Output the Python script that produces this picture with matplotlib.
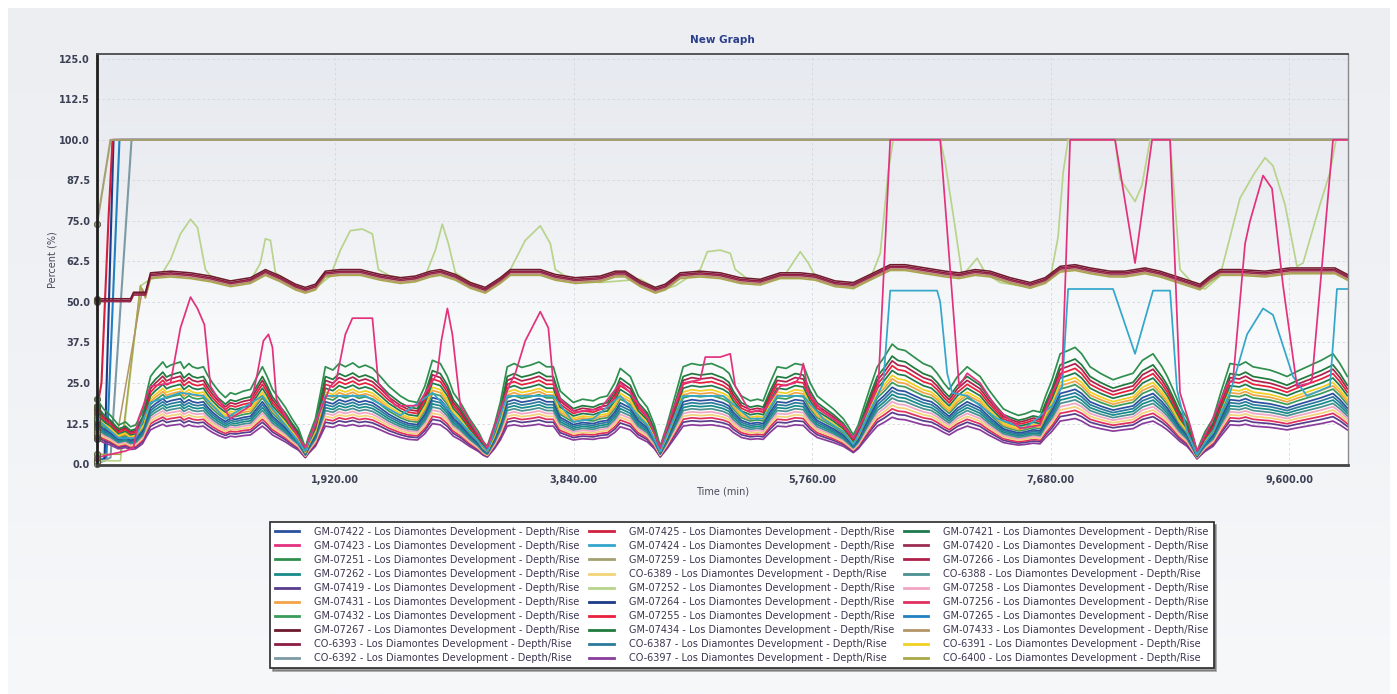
import matplotlib
matplotlib.use("Agg")
import matplotlib.pyplot as plt
import numpy as np
from matplotlib.lines import Line2D
from matplotlib.colors import LinearSegmentedColormap

# ---------------------------------------------------------------- data
# Time axis in minutes, values in percent.

# Common daily profile of the low-level sensor bundle (upper green trace)
BULK_T = [0, 52, 109, 173, 229, 270, 310, 366, 400, 431, 470, 495, 530, 560, 592, 630,
          672, 700, 740, 769, 810, 857, 890, 930, 980, 1034, 1075, 1115, 1180, 1236,
          1290, 1332, 1370, 1413, 1470, 1517, 1570, 1622, 1660, 1678, 1700, 1759, 1800,
          1839, 1900, 1950, 2000, 2060, 2110, 2161, 2220, 2282, 2350, 2443, 2510, 2580,
          2640, 2701, 2765, 2822, 2870, 2926, 3000, 3071, 3110, 3143, 3200, 3248, 3304,
          3360, 3420, 3490, 3560, 3620, 3675, 3731, 3790, 3836, 3910, 3997, 4050, 4110,
          4170, 4214, 4295, 4360, 4432, 4490, 4536, 4590, 4641, 4721, 4790, 4858, 4950,
          5043, 5090, 5124, 5190, 5261, 5320, 5365, 5420, 5478, 5550, 5623, 5688, 5744,
          5800, 5849, 5930, 6010, 6060, 6091, 6130, 6171, 6230, 6284, 6340, 6404, 6450,
          6509, 6580, 6654, 6720, 6766, 6820, 6863, 6930, 7008, 7060, 7112, 7180, 7249,
          7300, 7354, 7420, 7475, 7540, 7595, 7640, 7692, 7757, 7820, 7877, 7930, 7998,
          8080, 8130, 8183, 8260, 8344, 8420, 8505, 8577, 8620, 8666, 8720, 8779, 8830,
          8859, 8890, 8924, 8988, 9050, 9125, 9200, 9250, 9310, 9380, 9447, 9520, 9584,
          9660, 9745, 9800, 9860, 9954, 10010, 10070]
BULK_V = [20, 17, 15, 12, 13, 11.5, 12, 16, 22, 27, 29, 30, 31.5, 29.8, 30.5, 31,
          31.5, 29.5, 31, 30, 29.5, 30, 27.5, 25, 22.5, 20.5, 22, 21.5, 22.5, 23,
          27, 30, 27, 23, 20, 17.5, 14, 11, 7, 5, 8, 14, 22,
          30, 29, 31, 30, 31.2, 29.8, 30.5, 29.5, 27, 24, 21, 19.5, 19,
          24, 32, 31, 27, 22, 19, 14, 10, 7, 5.5, 12, 19, 30,
          31, 29.8, 30.5, 31.5, 30, 30, 22.5, 20.5, 19, 20, 19.5, 20.5, 21,
          25, 29.5, 27, 21, 17.5, 12, 5.5, 12, 19, 30, 31, 30.5, 31,
          29.5, 28, 25, 21, 19.5, 20, 19.5, 25, 30, 29.5, 31, 30.5, 25,
          21, 19.5, 17, 14, 11, 9, 12, 17, 24, 30, 33, 37, 35.5,
          35, 33, 31, 30, 28, 25, 23, 27, 30, 28.5, 27, 23, 19.5,
          17, 16, 15, 15.5, 16.5, 16, 21, 26, 34, 35, 36, 34, 30,
          28, 27, 26, 27, 28, 32, 34, 30, 27, 23, 18, 14, 8,
          4, 7, 10, 14, 22, 31, 30.5, 31.5, 30, 29.5, 29, 28, 27,
          28.5, 30, 31, 32, 34, 31, 27]

# Level of each bundle trace relative to the upper green trace
BULK_RATIO = {
    'GM-07251': 1.00, 'GM-07434': 0.90, 'GM-07266': 0.86, 'GM-07255': 0.82,
    'GM-07421': 0.78, 'CO-6391': 0.74, 'GM-07431': 0.71, 'GM-07432': 0.68,
    'GM-07422': 0.64, 'CO-6387': 0.61, 'GM-07262': 0.58, 'CO-6388': 0.55,
    'GM-07258': 0.52, 'CO-6389': 0.49, 'GM-07256': 0.46, 'GM-07419': 0.43,
    'CO-6397': 0.39,
}

# GM-07423 (spiking trace)
G23_T = [0, 109, 229, 294, 334, 431, 592, 672, 753, 809, 865, 914, 1075, 1236, 1292, 1340,
         1381, 1413, 1445, 1558, 1678, 1783, 1880, 1928, 2000, 2057, 2218, 2266, 2403,
         2580, 2741, 2773, 2822, 2862, 2926, 3071, 3143, 3248, 3329, 3369, 3449, 3570,
         3635, 3675, 3731, 3852, 4053, 4214, 4295, 4440, 4536, 4641, 4721, 4858, 4899,
         5019, 5100, 5140, 5261, 5382, 5502, 5623, 5664, 5688, 5728, 5849, 6010, 6091,
         6187, 6292, 6388, 6791, 6943, 7008, 7112, 7249, 7434, 7595, 7692, 7773, 7837,
         8199, 8360, 8497, 8642, 8722, 8803, 8859, 8964, 9109, 9149, 9246, 9286, 9391,
         9463, 9552, 9664, 9769, 9785, 9954, 10070]
G23_V = [2, 3, 4, 5, 14, 24, 25, 42, 51.5, 48, 43, 24, 14, 18, 28, 38,
         40, 36, 20, 12, 5, 15, 24, 26, 40, 45, 45, 25, 18,
         18, 28, 38, 48, 40, 18, 9, 5, 17, 25, 28, 38, 47,
         42, 25, 20, 16, 17, 25, 22, 14, 5, 17, 25, 26, 33,
         33, 34, 24, 16, 17, 24, 25, 27, 31, 22, 16, 12, 8,
         15, 24, 100, 100, 24, 28, 25, 17, 11, 12, 22, 28, 100,
         100, 62, 100, 100, 22, 12, 4, 12, 25, 26, 68, 75, 89,
         85, 55, 24, 25, 26, 100, 100]

# GM-07424 (plateau trace near 54 %)
G24_T = [0, 173, 310, 431, 672, 857, 1034, 1332, 1517, 1678, 1839, 2161, 2443, 2701, 2926,
         3143, 3304, 3675, 3836, 3997, 4214, 4432, 4536, 4721, 5043, 5261, 5365, 5478,
         5688, 5849, 6010, 6091, 6171, 6284, 6332, 6388, 6766, 6791, 6847, 6887, 7008,
         7249, 7475, 7692, 7773, 7821, 8183, 8360, 8505, 8642, 8698, 8779, 8859, 8988,
         9125, 9149, 9262, 9391, 9471, 9632, 9745, 9930, 9986, 10070]
G24_V = [14, 8, 8, 19, 22, 21, 14, 21, 12, 4, 21, 21, 15, 22, 13,
         4, 21, 21, 13, 14, 21, 12, 4, 21, 21, 14, 14, 21,
         21, 14, 10, 6, 12, 21, 25, 53.5, 53.5, 50, 28, 22, 21,
         14, 11, 18, 24, 54, 54, 34, 53.5, 53.5, 23, 10, 3, 10,
         22, 25, 40, 48, 46, 27, 21, 24, 54, 54]

# GM-07252 (upper trace with daily peaks)
G52_T = [0, 189, 350, 431, 511, 592, 672, 753, 809, 873, 914, 1075, 1236, 1316, 1356, 1397,
         1437, 1558, 1678, 1783, 1880, 1960, 2040, 2137, 2218, 2266, 2362, 2524, 2644,
         2725, 2781, 2830, 2886, 3007, 3127, 3248, 3329, 3449, 3570, 3651, 3691, 3812,
         4053, 4375, 4536, 4657, 4778, 4858, 4915, 5019, 5100, 5140, 5261, 5422, 5543,
         5664, 5728, 5784, 5986, 6091, 6227, 6308, 6372, 6412, 6791, 6831, 6903, 6968,
         7088, 7153, 7273, 7515, 7676, 7740, 7781, 7821, 8199, 8239, 8360, 8416, 8481,
         8642, 8682, 8722, 8843, 8924, 9044, 9125, 9205, 9326, 9407, 9471, 9568, 9664,
         9713, 9849, 9930, 9978, 10070]
G52_V = [1, 1, 55, 57, 58, 63, 71, 75.5, 73, 60, 58, 56, 56.5, 62, 69.5, 69,
         59, 56, 53.5, 55, 58, 66, 72, 72.5, 71, 60, 58, 57, 58,
         66, 74, 68, 59, 56, 53.5, 57, 60, 69, 73.5, 68, 60, 57,
         56, 57, 53.5, 55, 58, 60, 65.5, 66, 65, 60, 56.5, 57, 58.5,
         65.5, 62, 58, 55, 54, 57, 65, 90, 100, 100, 93, 75, 58,
         63.5, 59, 56, 54.5, 57, 70, 90, 100, 100, 88, 81, 86, 100,
         100, 80, 60, 55, 54, 58, 70, 82, 90, 94.5, 92, 80, 61,
         62, 80, 90, 100, 100]

# Traces running near 58 % (shared profile and per-trace offsets)
G58_T = [0, 270, 294, 390, 431, 592, 753, 914, 1075, 1236, 1356, 1477, 1598, 1678, 1759,
         1839, 1960, 2121, 2282, 2443, 2564, 2685, 2765, 2886, 3007, 3127, 3248, 3329,
         3570, 3691, 3852, 4053, 4174, 4254, 4375, 4496, 4577, 4697, 4858, 5019, 5180,
         5341, 5502, 5664, 5784, 5945, 6091, 6227, 6388, 6509, 6670, 6831, 6943, 7072,
         7193, 7354, 7515, 7636, 7757, 7877, 7998, 8159, 8279, 8440, 8561, 8722, 8843,
         8883, 8964, 9044, 9205, 9407, 9608, 9769, 9970, 10070]
G58_V = [50.5, 50.5, 52.5, 52.5, 58.5, 59, 58.5, 57.5, 56, 57, 59.5, 57.5, 55, 54, 55,
         59, 59.5, 59.5, 58, 57, 57.5, 59, 59.5, 58, 55.5, 54, 57, 59.5,
         59.5, 58, 57, 57.5, 59, 59, 56, 54, 55, 58.5, 59, 58.5, 57,
         56.5, 58.5, 58.5, 58, 56, 55.5, 58, 61, 61, 60, 59, 58.5, 59.5,
         59, 57, 55.5, 57, 60.5, 61, 60, 59, 59, 60, 59, 57, 55.5,
         55, 57.5, 59.5, 59.5, 59, 60, 60, 60, 58]
G58_OFFSET = {'GM-07267': 0.5, 'CO-6393': 0.0, 'GM-07420': -0.4,
              'GM-07433': -0.9, 'CO-6400': -1.3}
G58_START = {
    'GM-07433': ([0, 149, 366], [8, 6, 54]),
    'CO-6400': ([0, 189, 350], [3, 3, 55]),
}

# Traces that climb to 100 % right after the start
FULL_T = {
    'GM-07425': [0, 36, 93, 125, 10070],
    'GM-07259': [0, 109, 10070],
    'GM-07264': [0, 60, 133, 10070],
    'GM-07265': [0, 76, 181, 10070],
    'CO-6392': [0, 109, 278, 10070],
}
FULL_V = {
    'GM-07425': [17, 25, 76, 100, 100],
    'GM-07259': [74, 100, 100],
    'GM-07264': [1, 1, 100, 100],
    'GM-07265': [1, 2, 100, 100],
    'CO-6392': [0, 2, 100, 100],
}

COLORS = {
    'GM-07422': '#2c4f9e', 'GM-07423': '#e2327e', 'GM-07251': '#2f8f4e',
    'GM-07262': '#178a8a', 'GM-07419': '#5a3c8c', 'GM-07431': '#f2a444',
    'GM-07432': '#3a9c5c', 'GM-07267': '#6e1a2c', 'CO-6393': '#8c1c40',
    'CO-6392': '#7c9aa4', 'GM-07425': '#d0203e', 'GM-07424': '#34a6cc',
    'GM-07259': '#a4a070', 'CO-6389': '#f2d478', 'GM-07252': '#b8d48c',
    'GM-07264': '#1c3a86', 'GM-07255': '#e8203c', 'GM-07434': '#1f7a3c',
    'CO-6387': '#2a7a9c', 'CO-6397': '#8a3c9c', 'GM-07421': '#1d7a4c',
    'GM-07420': '#9c2c50', 'GM-07266': '#b0204a', 'CO-6388': '#4a9090',
    'GM-07258': '#f2a6c4', 'GM-07256': '#e0305e', 'GM-07265': '#2080c0',
    'GM-07433': '#b29468', 'CO-6391': '#f0d020', 'CO-6400': '#a8a848',
}

LEGEND_ORDER = ['GM-07422', 'GM-07423', 'GM-07251', 'GM-07262', 'GM-07419',
                'GM-07431', 'GM-07432', 'GM-07267', 'CO-6393', 'CO-6392',
                'GM-07425', 'GM-07424', 'GM-07259', 'CO-6389', 'GM-07252',
                'GM-07264', 'GM-07255', 'GM-07434', 'CO-6387', 'CO-6397',
                'GM-07421', 'GM-07420', 'GM-07266', 'CO-6388', 'GM-07258',
                'GM-07256', 'GM-07265', 'GM-07433', 'CO-6391', 'CO-6400']

X_TICKS = [1920, 3840, 5760, 7680, 9600]
Y_TICKS = [0, 12.5, 25, 37.5, 50, 62.5, 75, 87.5, 100, 112.5, 125]

# ---------------------------------------------------------------- figure
W, H, DPI = 1397, 694, 100
fig = plt.figure(figsize=(W / DPI, H / DPI), dpi=DPI, facecolor='white')
plt.rcParams['font.family'] = ['DejaVu Sans']

grad = np.linspace(0, 1, 256).reshape(-1, 1)

# light panel behind the chart
bg = fig.add_axes([8 / W, 0, (1390 - 8) / W, 1 - 8 / H], zorder=-10)
bg.imshow(grad, aspect='auto', extent=[0, 1, 0, 1],
          cmap=LinearSegmentedColormap.from_list('panel', ['#eceef2', '#f1f2f5', '#f7f8fa']))
bg.axis('off')

ax = fig.add_axes([97 / W, 1 - 465 / H, (1348 - 97) / W, (465 - 54) / H])
ax.imshow(grad, aspect='auto', extent=[0, 1, 0, 1], transform=ax.transAxes, zorder=0,
          cmap=LinearSegmentedColormap.from_list('plot', ['#e7eaf0', '#eceef2', '#f8f9fa', '#ffffff']))


def draw(t, v, name, z, lw=1.25):
    c = COLORS[name]
    ax.plot(t, v, color=c, lw=lw, zorder=z, solid_joinstyle='round')
    ax.plot(t[0], v[0], 'o', ms=4.5, mfc=c, mec='#55553a', mew=0.6,
            zorder=40, clip_on=False)


# traces at 100 %
for i, name in enumerate(['GM-07265', 'GM-07264', 'GM-07425', 'CO-6392', 'GM-07259']):
    draw(FULL_T[name], FULL_V[name], name, 3 + i * 0.01, lw=1.5)

# traces near 58 %
for i, name in enumerate(['CO-6400', 'GM-07433', 'GM-07420', 'CO-6393', 'GM-07267']):
    off = G58_OFFSET[name]
    if name in G58_START:
        st, sv = G58_START[name]
        t = list(st) + [x for x in G58_T if x > st[-1]]
        v = list(sv) + [y + off for x, y in zip(G58_T, G58_V) if x > st[-1]]
    else:
        t = G58_T
        v = [y + off for y in G58_V]
    draw(t, v, name, 4 + i * 0.01, lw=1.1)

draw(G52_T, G52_V, 'GM-07252', 3.9)

# low-level bundle, lowest trace drawn first
for i, name in enumerate(sorted(BULK_RATIO, key=lambda k: BULK_RATIO[k])):
    r = BULK_RATIO[name]
    draw(BULK_T, [y * r for y in BULK_V], name, 5 + i * 0.01)

draw(G24_T, G24_V, 'GM-07424', 6)
draw(G23_T, G23_V, 'GM-07423', 7)

# axes styling
ax.set_xlim(0, 10075)
ax.set_ylim(-0.3, 126.5)
ax.set_xticks(X_TICKS)
ax.set_xticklabels([f'{v:,.2f}' for v in X_TICKS])
ax.set_yticks(Y_TICKS)
ax.set_yticklabels([f'{v:.1f}' for v in Y_TICKS])
ax.tick_params(length=0, labelsize=7, labelcolor='#3c4054')
ax.tick_params(axis='x', pad=7)
ax.tick_params(axis='y', pad=5)
for lab in ax.get_xticklabels() + ax.get_yticklabels():
    lab.set_fontweight('bold')
ax.grid(True, color='#d3d6dc', lw=0.6, ls=(0, (3, 3)), zorder=1)

ax.spines['left'].set_color('#1e1e1e')
ax.spines['left'].set_linewidth(2.0)
ax.spines['bottom'].set_color('#444444')
ax.spines['bottom'].set_linewidth(2.0)
ax.spines['top'].set_color('#4a4a4a')
ax.spines['top'].set_linewidth(1.3)
ax.spines['right'].set_color('#8a8a8a')
ax.spines['right'].set_linewidth(1.0)
for s in ax.spines.values():
    s.set_zorder(50)

ax.set_title('New Graph', fontsize=7.5, fontweight='bold', color='#2c3f8c', pad=8)
ax.set_xlabel('Time (min)', fontsize=7, color='#4a4a5a', labelpad=1)
ax.set_ylabel('Percent (%)', fontsize=7, color='#4a4a5a', labelpad=1)

# legend
handles = [Line2D([], [], color=COLORS[n], lw=2) for n in LEGEND_ORDER]
labels = [f'{n} - Los Diamontes Development - Depth/Rise' for n in LEGEND_ORDER]
leg = fig.legend(handles, labels, ncol=3, loc='upper left',
                 bbox_to_anchor=(270 / W, 1 - 522 / H), bbox_transform=fig.transFigure,
                 fontsize=7.05, frameon=True, fancybox=False, shadow=True,
                 edgecolor='#2a2a2a', facecolor='white', framealpha=1,
                 borderpad=0.5, labelspacing=0.41, handlelength=2.5,
                 handletextpad=1.5, columnspacing=1.0, borderaxespad=0,
                 labelcolor='#3d3550')
leg.get_frame().set_linewidth(1.2)

fig.savefig('out.png', dpi=DPI, facecolor='white')
